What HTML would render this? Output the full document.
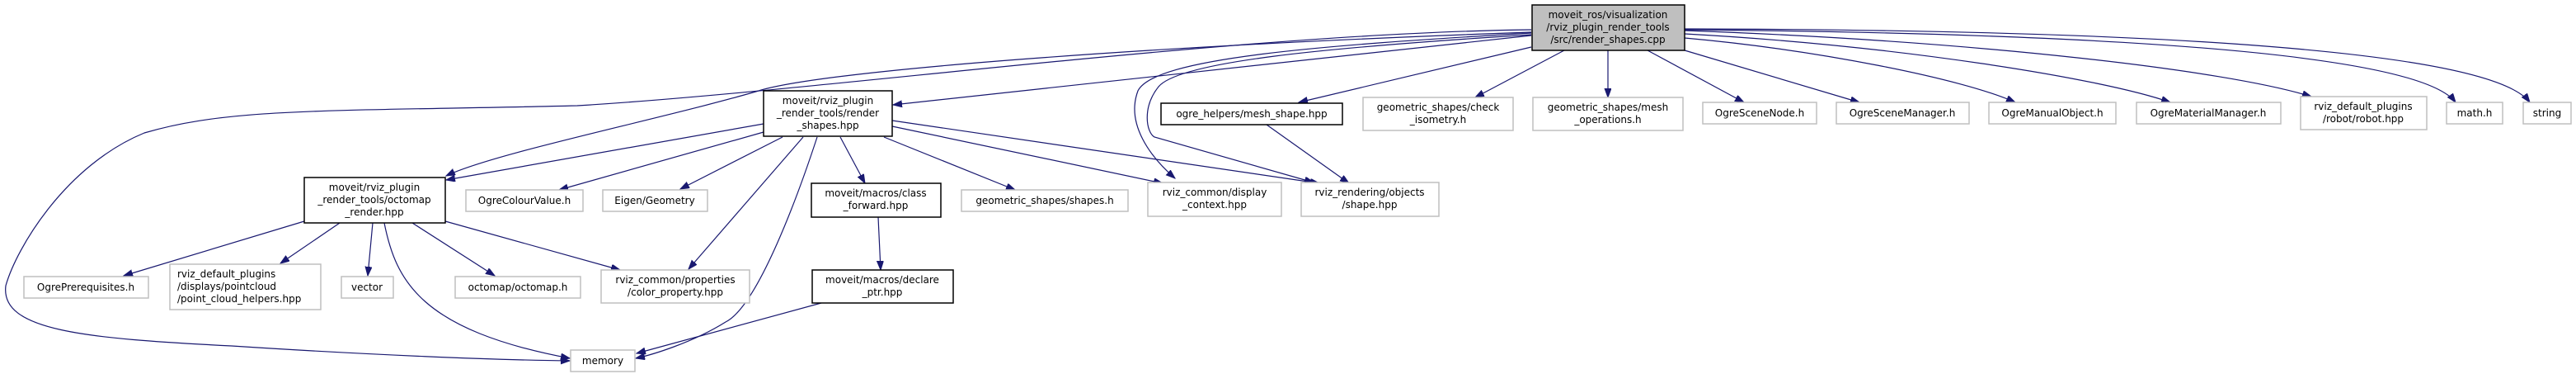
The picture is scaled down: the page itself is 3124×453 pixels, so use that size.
<!DOCTYPE html>
<html><head><meta charset="utf-8"><style>
html,body{margin:0;padding:0;background:#fff;}
svg{display:block;}
text{font-family:"DejaVu Sans","Liberation Sans",sans-serif;font-size:12px;fill:#000;}
.g{fill:#fff;stroke:#bfbfbf;stroke-width:1.5;}
.b{fill:#fff;stroke:#000;stroke-width:1.5;}
.e{fill:none;stroke:#191970;stroke-width:1.2;}
</style></head><body>
<svg width="3124" height="453" viewBox="0 0 3124 453" xmlns="http://www.w3.org/2000/svg">
<defs><marker id="a" markerUnits="userSpaceOnUse" markerWidth="12" markerHeight="10" refX="11" refY="4" orient="auto"><path d="M0,0 L11,4 L0,8 z" fill="#191970" stroke="#191970"/></marker></defs>
<g class="e" marker-end="url(#a)">
<path d="M1857,43 L1083,127"/>
<path d="M1857,39 C1400,55 1000,85 920,110 C800,145 600,185 541,213"/>
<path d="M1857,36 C1500,40 1000,110 700,128 C400,135 280,130 175,161 C80,200 20,300 7,346 C0,400 100,410 281,419 C450,430 600,436 691,437"/>
<path d="M1857,57 L1575,124"/>
<path d="M1897,61 L1789,118"/>
<path d="M1950,61 L1950,118"/>
<path d="M1998,61 L2115,124"/>
<path d="M2043,61 L2255,124"/>
<path d="M2043,46 C2200,60 2380,95 2444,124"/>
<path d="M2043,41 C2300,55 2550,95 2632,124"/>
<path d="M2043,37 C2400,50 2700,85 2803,117"/>
<path d="M2043,36 C2500,40 2930,60 2978,124"/>
<path d="M2043,35 C2600,36 3020,60 3068,124"/>
<path d="M1857,40 C1600,55 1400,70 1380,110 C1365,150 1395,190 1425,216"/>
<path d="M1857,42 C1600,58 1430,75 1405,105 C1385,130 1390,160 1400,166 L1593,221"/>
<path d="M926,150 L541,218"/>
<path d="M926,160 L678,230"/>
<path d="M949,166 L825,229"/>
<path d="M974,166 L835,326"/>
<path d="M991,166 C970,230 920,370 880,390 C840,415 790,430 771,434"/>
<path d="M1019,166 L1049,222"/>
<path d="M1072,166 L1231,230"/>
<path d="M1082,153 L1410,222"/>
<path d="M1082,146 L1600,222"/>
<path d="M369,268 L150,334"/>
<path d="M412,270 L340,319"/>
<path d="M452,270 L446,334"/>
<path d="M500,270 L600,334"/>
<path d="M540,268 L752,327"/>
<path d="M466,270 C480,340 510,400 691,434"/>
<path d="M1065,263 L1068,327"/>
<path d="M996,367 L772,428"/>
<path d="M1536,151 L1636,222"/>
</g>
<!-- top -->
<rect x="1858" y="6" width="185" height="55" fill="#bfbfbf" stroke="#000" stroke-width="1.5"/>
<g text-anchor="middle"><text x="1950" y="22">moveit_ros/visualization</text><text x="1950" y="37">/rviz_plugin_render_tools</text><text x="1950" y="52">/src/render_shapes.cpp</text></g>
<rect class="b" x="926" y="110" width="156" height="55"/>
<g text-anchor="middle"><text x="1004" y="126">moveit/rviz_plugin</text><text x="1004" y="141">_render_tools/render</text><text x="1004" y="156">_shapes.hpp</text></g>
<rect class="b" x="369" y="215" width="171" height="55"/>
<g text-anchor="middle"><text x="454" y="231">moveit/rviz_plugin</text><text x="454" y="246">_render_tools/octomap</text><text x="454" y="261">_render.hpp</text></g>
<rect class="b" x="1408" y="125" width="220" height="26"/>
<text x="1518" y="142" text-anchor="middle">ogre_helpers/mesh_shape.hpp</text>
<rect class="b" x="984" y="222" width="157" height="41"/>
<g text-anchor="middle"><text x="1062" y="238">moveit/macros/class</text><text x="1062" y="253">_forward.hpp</text></g>
<rect class="b" x="985" y="327" width="171" height="40"/>
<g text-anchor="middle"><text x="1070" y="343">moveit/macros/declare</text><text x="1070" y="358">_ptr.hpp</text></g>
<!-- gray -->
<g class="g">
<rect x="1653" y="118" width="182" height="40"/>
<rect x="1859" y="118" width="182" height="40"/>
<rect x="2065" y="124" width="138" height="26"/>
<rect x="2227" y="124" width="161" height="26"/>
<rect x="2412" y="124" width="154" height="26"/>
<rect x="2591" y="124" width="175" height="26"/>
<rect x="2790" y="117" width="153" height="40"/>
<rect x="2967" y="124" width="68" height="26"/>
<rect x="3060" y="124" width="58" height="26"/>
<rect x="565" y="230" width="142" height="26"/>
<rect x="731" y="230" width="127" height="26"/>
<rect x="1166" y="230" width="202" height="26"/>
<rect x="1392" y="221" width="162" height="41"/>
<rect x="1578" y="221" width="167" height="41"/>
<rect x="29" y="335" width="151" height="26"/>
<rect x="206" y="320" width="183" height="55"/>
<rect x="414" y="335" width="63" height="26"/>
<rect x="552" y="335" width="152" height="26"/>
<rect x="729" y="327" width="180" height="40"/>
<rect x="692" y="424" width="78" height="26"/>
</g>
<g text-anchor="middle">
<text x="1744" y="134">geometric_shapes/check</text><text x="1744" y="149">_isometry.h</text>
<text x="1950" y="134">geometric_shapes/mesh</text><text x="1950" y="149">_operations.h</text>
<text x="2134" y="141">OgreSceneNode.h</text>
<text x="2307" y="141">OgreSceneManager.h</text>
<text x="2489" y="141">OgreManualObject.h</text>
<text x="2678" y="141">OgreMaterialManager.h</text>
<text x="2866" y="133">rviz_default_plugins</text><text x="2866" y="148">/robot/robot.hpp</text>
<text x="3001" y="141">math.h</text>
<text x="3089" y="141">string</text>
<text x="636" y="247">OgreColourValue.h</text>
<text x="794" y="247">Eigen/Geometry</text>
<text x="1267" y="247">geometric_shapes/shapes.h</text>
<text x="1473" y="237">rviz_common/display</text><text x="1473" y="252">_context.hpp</text>
<text x="1661" y="237">rviz_rendering/objects</text><text x="1661" y="252">/shape.hpp</text>
<text x="104" y="352">OgrePrerequisites.h</text>
<text x="445" y="352">vector</text>
<text x="628" y="352">octomap/octomap.h</text>
<text x="819" y="343">rviz_common/properties</text><text x="819" y="358">/color_property.hpp</text>
<text x="731" y="441">memory</text>
</g>
<text x="215" y="336">rviz_default_plugins</text><text x="215" y="351">/displays/pointcloud</text><text x="215" y="366">/point_cloud_helpers.hpp</text>
</svg>
</body></html>
